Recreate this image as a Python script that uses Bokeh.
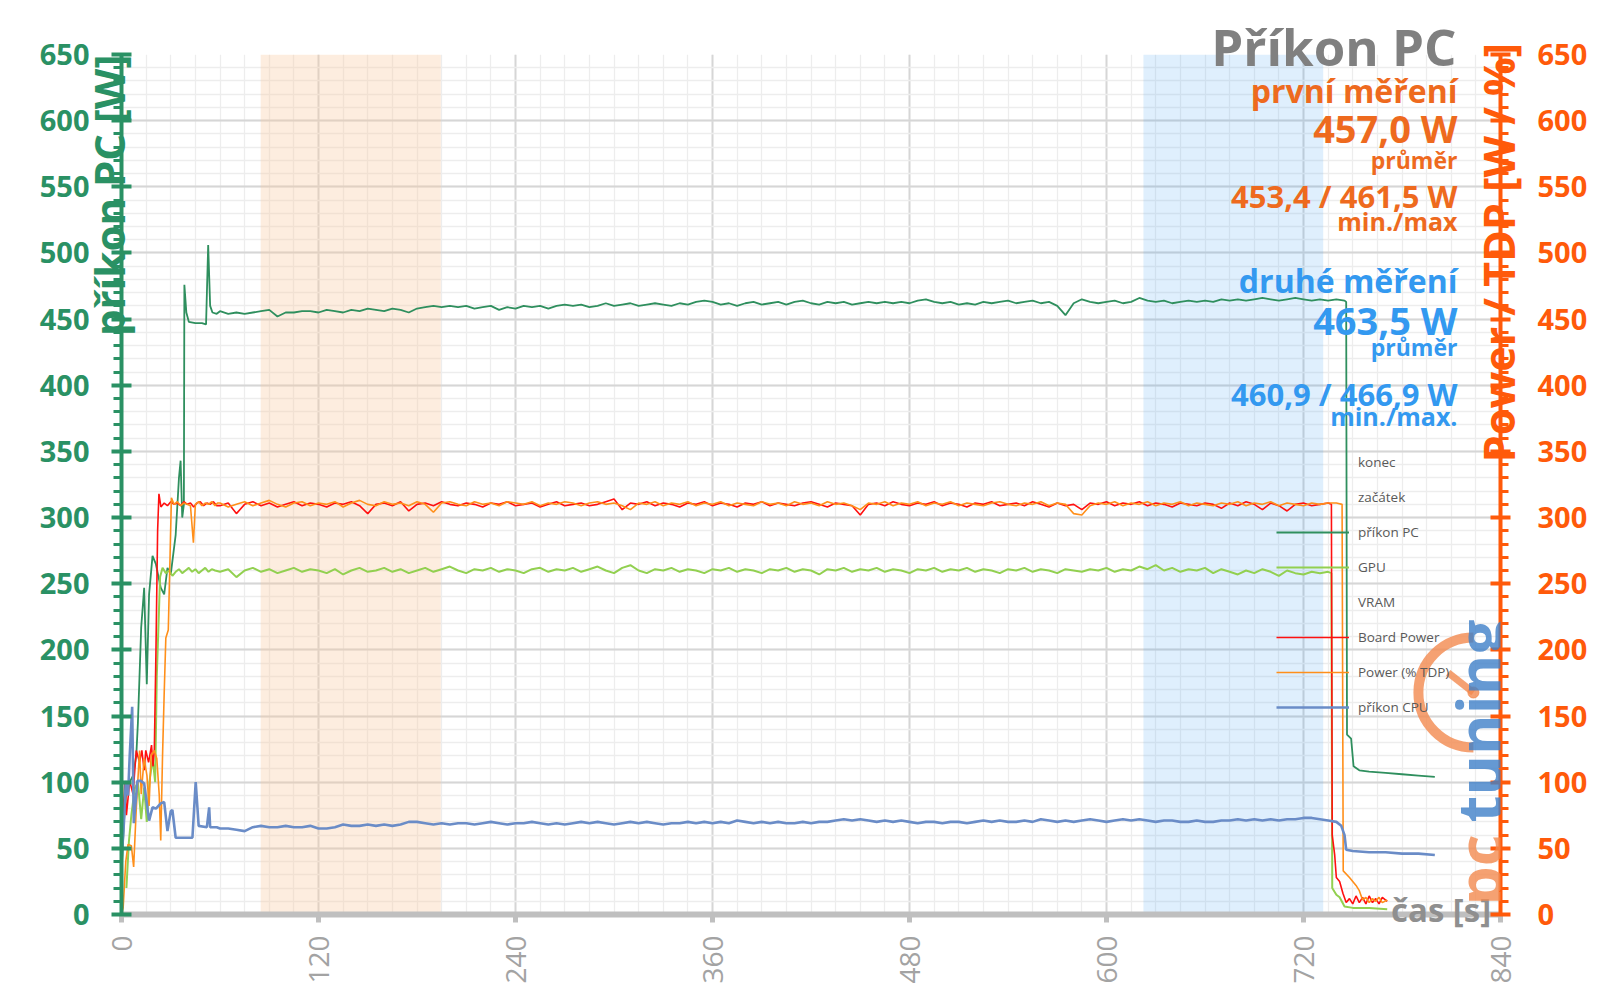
import math
from bokeh.plotting import figure
from bokeh.models import (Range1d, LinearAxis, SingleIntervalTicker, BoxAnnotation,
                          Label, Legend, LegendItem, ColumnDataSource)
from bokeh.embed import file_html
from bokeh.resources import INLINE

# ---------------- data ----------------
X_TICKS = [0, 120, 240, 360, 480, 600, 720, 840]
BAND_START = (84.8, 194.5)   # "začátek" band (s)
BAND_END = (622.5, 732.0)    # "konec" band (s)

T_STEADY = list(range(60, 731, 5))

PC_EARLY = [(0, 30), (1.5, 70), (3, 95), (5, 100), (7, 105), (9, 120), (10, 145), (12, 217), (13.8, 247),
            (15.4, 174), (16.8, 242), (18.9, 271), (20.9, 265), (23.9, 247), (26, 242), (28, 262), (30, 257),
            (33, 287), (35, 330), (36, 343), (37, 300), (38, 310), (38.3, 476), (39.5, 455), (41, 448),
            (45, 447), (49, 447), (51.5, 446), (52.8, 506), (54, 460), (55.4, 455), (58, 454)]
PC_STEADY = [456, 454, 455, 454, 455, 456, 457, 452, 455, 455,
             456, 456, 455, 457, 456, 455, 457, 456, 458, 457,
             456, 458, 457, 455, 458, 459, 460, 459, 460, 459,
             460, 458, 459, 460, 457, 459, 458, 460, 459, 460,
             458, 460, 461, 460, 461, 459, 460, 462, 460, 461,
             462, 460, 461, 462, 461, 460, 462, 461, 463, 464,
             463, 461, 462, 460, 462, 463, 461, 462, 463, 461,
             463, 464, 462, 461, 463, 462, 463, 461, 462, 463,
             462, 463, 462, 463, 462, 464, 465, 463, 462, 463,
             461, 462, 461, 463, 462, 463, 464, 462, 463, 464,
             462, 463, 460, 453, 462, 465, 463, 462, 463, 464,
             462, 463, 466, 464, 463, 464, 462, 463, 464, 463,
             464, 463, 465, 464, 465, 464, 465, 466, 465, 464,
             465, 466, 465, 464, 465]
PC_END = [(735, 464), (740, 465), (745, 464), (746, 463), (746.5, 136), (749, 133), (750.5, 112), (754, 109),
          (760, 108), (770, 107), (780, 106), (790, 105), (800, 104)]

CPU_EARLY = [(0, 40), (1.5, 70), (2.6, 101), (4, 90), (5, 120), (6.5, 157), (7.5, 69), (9.7, 101), (11.8, 101),
             (13.8, 99), (16.8, 71), (18.9, 81), (21, 80), (23.9, 84), (26, 85), (28, 63), (30, 78), (31, 79),
             (33, 58), (38, 58), (43.2, 58), (45.2, 100), (47, 67), (52, 66), (53.4, 81), (54, 66), (58, 66)]
CPU_STEADY = [65, 65, 64, 63, 66, 67, 66, 66, 67, 66,
              66, 67, 65, 65, 66, 68, 67, 67, 68, 67,
              68, 67, 68, 70, 70, 69, 68, 69, 68, 69,
              69, 68, 69, 70, 69, 68, 69, 69, 70, 69,
              68, 69, 68, 69, 70, 69, 70, 69, 68, 69,
              70, 69, 70, 69, 68, 69, 69, 70, 69, 70,
              69, 70, 69, 71, 70, 69, 70, 69, 70, 69,
              69, 70, 69, 70, 70, 71, 72, 71, 72, 71,
              70, 71, 70, 71, 70, 69, 70, 70, 69, 70,
              70, 69, 70, 71, 70, 71, 70, 70, 71, 70,
              72, 71, 70, 71, 70, 71, 72, 71, 70, 71,
              72, 71, 72, 71, 70, 71, 71, 70, 70, 71,
              70, 70, 71, 71, 72, 71, 72, 71, 72, 71,
              72, 72, 73, 73, 72]
CPU_END = [(735, 71), (740, 70), (743, 67), (745, 60), (746, 49), (750, 48), (760, 47), (770, 47), (780, 46),
           (790, 46), (800, 45)]

RED_EARLY = [(0, 105), (1, 72), (2, 100), (3, 75), (5, 101), (7, 91), (9, 124), (11, 115), (12.4, 124),
             (13.8, 109), (14.8, 124), (16.5, 115), (18.3, 128), (19.2, 112), (20, 125), (21, 200), (22, 290),
             (22.8, 318), (24, 308), (26, 311), (28, 309), (30, 312), (32, 310), (34, 311), (36, 309), (38, 312),
             (40, 310), (42, 311), (44, 308), (46, 311), (48, 312), (50, 309), (52, 311), (54, 310), (56, 312),
             (58, 309)]
RED_STEADY = [309, 311, 303, 310, 312, 309, 311, 308, 310, 312,
              309, 311, 310, 308, 311, 310, 312, 309, 303, 310,
              311, 309, 312, 305, 310, 311, 309, 312, 310, 309,
              311, 310, 308, 311, 310, 312, 309, 310, 311, 308,
              310, 312, 309, 310, 311, 309, 310, 312, 314, 306,
              311, 310, 312, 309, 311, 310, 308, 311, 310, 312,
              309, 311, 310, 308, 311, 310, 312, 309, 311, 310,
              309, 311, 312, 310, 308, 311, 310, 309, 302, 310,
              311, 309, 312, 310, 309, 311, 310, 312, 309, 311,
              310, 308, 311, 310, 312, 309, 310, 311, 309, 312,
              310, 308, 311, 309, 310, 306, 311, 310, 312, 309,
              311, 310, 312, 309, 311, 310, 308, 311, 310, 309,
              311, 310, 307, 311, 309, 312, 310, 306, 311, 309,
              305, 310, 311, 309, 310]
RED_END = [(735, 311), (737, 310), (737.5, 60), (739, 45), (740, 28), (742, 25), (744, 16), (746, 9), (748, 12),
           (750, 8), (752, 14), (754, 9), (756, 13), (758, 8), (760, 14), (762, 9), (764, 12), (766, 8),
           (768, 13), (771, 10)]

TDP_EARLY = [(0, 0), (1, 5), (2.6, 40), (4, 53), (6, 52), (7.4, 36), (9, 80), (11, 124), (12, 91), (13.8, 118),
             (15.5, 105), (16.8, 82), (18, 120), (20, 124), (21.5, 118), (23, 90), (23.9, 56), (25, 120),
             (26, 167), (27, 209), (28.5, 215), (29.6, 272), (30.4, 315), (32, 310), (34, 312), (36, 309),
             (38, 311), (40, 310), (42, 309), (43.8, 281), (45, 310), (47, 312), (49, 309), (51, 311), (53, 310),
             (55, 312), (57, 309), (58.5, 311)]
TDP_STEADY = [311, 308, 310, 312, 309, 311, 313, 310, 308, 311,
              312, 309, 311, 310, 312, 308, 311, 313, 310, 309,
              312, 310, 311, 309, 312, 310, 304, 311, 312, 310,
              309, 312, 310, 311, 309, 312, 311, 310, 312, 309,
              311, 310, 312, 311, 309, 311, 312, 310, 311, 309,
              306, 311, 310, 312, 309, 311, 310, 312, 309, 311,
              310, 312, 309, 311, 310, 309, 312, 310, 311, 309,
              312, 310, 311, 309, 312, 310, 311, 309, 306, 311,
              310, 312, 309, 311, 310, 312, 309, 311, 310, 312,
              309, 311, 310, 309, 311, 312, 310, 309, 311, 310,
              312, 309, 311, 310, 303, 302, 309, 311, 310, 312,
              309, 311, 310, 312, 309, 311, 310, 312, 309, 311,
              310, 309, 311, 310, 312, 309, 311, 310, 312, 309,
              311, 310, 309, 311, 310]
TDP_END = [(735, 311), (740, 311), (743.5, 310), (744.2, 33), (748, 28), (752, 22), (754, 18), (756, 11),
           (758, 13), (760, 9), (762, 12), (764, 10), (766, 13), (768, 9), (771, 11)]

GPU_EARLY = [(3, 20), (4.5, 55), (6, 75), (8, 95), (10, 100), (12, 72), (13.8, 96), (15.4, 70), (17, 100),
             (19, 118), (20.5, 100), (21.5, 180), (23.5, 255), (25, 262), (27, 258), (29, 260), (31, 256),
             (33, 259), (35, 261), (37, 258), (39, 260), (41, 262), (43, 259), (45, 261), (47, 258), (49, 260),
             (51, 262), (53, 259), (55, 261), (57, 260)]
GPU_STEADY = [259, 261, 255, 260, 262, 259, 261, 258, 260, 262,
              259, 261, 260, 258, 261, 257, 260, 262, 259, 260,
              262, 259, 261, 258, 260, 262, 259, 261, 263, 260,
              258, 261, 260, 262, 259, 261, 260, 258, 261, 262,
              259, 261, 260, 262, 259, 261, 263, 260, 258, 262,
              264, 260, 258, 261, 260, 262, 259, 261, 260, 258,
              261, 260, 262, 259, 261, 260, 258, 261, 260, 262,
              259, 261, 260, 257, 261, 260, 262, 259, 261, 260,
              262, 259, 261, 260, 258, 261, 260, 262, 259, 261,
              260, 262, 259, 261, 260, 258, 261, 260, 262, 259,
              261, 260, 258, 261, 260, 259, 261, 260, 262, 259,
              261, 260, 263, 261, 264, 260, 262, 259, 261, 260,
              262, 258, 261, 259, 257, 260, 258, 261, 259, 256,
              260, 258, 257, 259, 258]
GPU_END = [(735, 259), (737, 258), (737.5, 20), (740, 15), (742, 13), (745, 6), (750, 5), (760, 5), (771, 4)]

for s in (PC_STEADY, CPU_STEADY, RED_STEADY, TDP_STEADY, GPU_STEADY):
    assert len(s) == len(T_STEADY), len(s)


def series(early, steady, end):
    t = [a for a, _ in early] + T_STEADY + [a for a, _ in end]
    v = [b for _, b in early] + steady + [b for _, b in end]
    return ColumnDataSource(dict(t=t, v=v))


def set_if(obj, **kw):
    props = obj.properties()
    for k, v in kw.items():
        if k in props:
            try:
                setattr(obj, k, v)
            except Exception:
                pass


NBSP = "\u00a0"

# ---------------- styles ----------------
FONT = "Open Sans"
GREEN_AX = "#2A9164"
ORANGE_AX = "#FF5A0A"
ORANGE_TX = "#EE6A1E"
BLUE_TX = "#3399F0"

C_PC = "#2F8F5E"
C_GPU = "#92D050"
C_VRAM = "#1FB2E8"
C_RED = "#FF1010"
C_TDP = "#FF8F1A"
C_CPU = "#6A8CC7"

p = figure(width=1600, height=1008, output_backend="svg", toolbar_location=None,
           x_range=Range1d(0, 840), y_range=Range1d(0, 650),
           min_border_left=121, min_border_right=100, min_border_top=54, min_border_bottom=94)
p.extra_y_ranges = {"r": Range1d(0, 650)}
p.outline_line_color = None
p.background_fill_color = "white"
p.border_fill_color = "white"

# title (top right, above panel so it is not clipped)
p.title.text = "Příkon PC"
p.title.align = "right"
p.title.vertical_align = "bottom"
p.title.offset = 44
p.title.standoff = -53
p.title.text_font = FONT
p.title.text_font_style = "bold"
p.title.text_font_size = "51px"
p.title.text_color = "#808080"

xt = SingleIntervalTicker(interval=120, num_minor_ticks=8)
yt = SingleIntervalTicker(interval=50, num_minor_ticks=5)
yt2 = SingleIntervalTicker(interval=50, num_minor_ticks=5)

# grids
p.xgrid.ticker = xt
p.ygrid.ticker = yt
for g in (p.xgrid, p.ygrid):
    g.grid_line_color = "#D6D6D6"
    g.grid_line_width = 2
    g.minor_grid_line_color = "#EDEDED"
    g.minor_grid_line_width = 1.3

# x axis
xa = p.xaxis[0]
xa.ticker = xt
xa.axis_line_color = "#BFBFBF"
xa.axis_line_width = 6
xa.major_tick_line_color = "#BFBFBF"
xa.major_tick_line_width = 5
xa.major_tick_out = 8
xa.major_tick_in = 0
xa.minor_tick_line_color = None
xa.major_label_orientation = math.pi / 2
xa.major_label_text_font = FONT
xa.major_label_text_font_size = "28px"
xa.major_label_text_color = "#A3A3A3"
xa.major_label_standoff = 13


def style_y(ax, col, stand):
    ax.axis_line_color = col
    ax.axis_line_width = 4
    ax.major_tick_line_color = col
    ax.major_tick_line_width = 4
    ax.major_tick_out = 10
    ax.major_tick_in = 10
    ax.minor_tick_line_color = col
    ax.minor_tick_line_width = 3
    ax.minor_tick_out = 8
    ax.minor_tick_in = 0
    ax.major_label_text_font = FONT
    ax.major_label_text_font_style = "bold"
    ax.major_label_text_font_size = "29px"
    ax.major_label_text_color = col
    ax.major_label_standoff = stand


ya = p.yaxis[0]
ya.ticker = yt
style_y(ya, GREEN_AX, 22)
ra = LinearAxis(y_range_name="r", ticker=yt2)
style_y(ra, ORANGE_AX, 27)
p.add_layout(ra, "right")

# axis titles (drawn by the axes; leading no-break spaces move the visible words to where the original has them)
LEFT_TITLE = "příkon PC [W]"
RIGHT_TITLE = "Power / TDP [W / %]"
X_TITLE = "čas [s]"

ya.axis_label = NBSP * 53 + LEFT_TITLE
ya.axis_label_standoff = -100
ya.axis_label_text_font = FONT
ya.axis_label_text_font_style = "bold"
ya.axis_label_text_font_size = "42px"
ya.axis_label_text_color = GREEN_AX

set_if(ra, axis_label_orientation=math.pi / 2)
ra.axis_label = NBSP * 2 + RIGHT_TITLE
ra.axis_label_standoff = -92
ra.axis_label_text_font = FONT
ra.axis_label_text_font_style = "bold"
ra.axis_label_text_font_size = "43px"
ra.axis_label_text_color = ORANGE_AX

xa.axis_label = NBSP * 147 + X_TITLE
xa.axis_label_standoff = -100
xa.axis_label_text_font = FONT
xa.axis_label_text_font_style = "bold"
xa.axis_label_text_font_size = "33px"
xa.axis_label_text_color = "#8F8F8F"

# bands
p.add_layout(BoxAnnotation(left=BAND_START[0], right=BAND_START[1], fill_color="#F9C89B", fill_alpha=0.32,
                           line_color=None, level="underlay"))
p.add_layout(BoxAnnotation(left=BAND_END[0], right=BAND_END[1], fill_color="#3B9BF5", fill_alpha=0.16,
                           line_color=None, level="underlay"))

# series
r_konec = p.line(x=[], y=[], line_color="#C6DFF7", line_width=2)
r_zac = p.line(x=[], y=[], line_color="#FBE0C8", line_width=2)
r_pc = p.line("t", "v", source=series(PC_EARLY, PC_STEADY, PC_END), line_color=C_PC, line_width=1.8)
r_gpu = p.line("t", "v", source=series(GPU_EARLY, GPU_STEADY, GPU_END), line_color=C_GPU, line_width=2,
               y_range_name="r")
r_vram = p.line(x=[], y=[], line_color=C_VRAM, line_width=2, y_range_name="r")
r_red = p.line("t", "v", source=series(RED_EARLY, RED_STEADY, RED_END), line_color=C_RED, line_width=1.6,
               y_range_name="r")
r_tdp = p.line("t", "v", source=series(TDP_EARLY, TDP_STEADY, TDP_END), line_color=C_TDP, line_width=1.6,
               y_range_name="r")
r_cpu = p.line("t", "v", source=series(CPU_EARLY, CPU_STEADY, CPU_END), line_color=C_CPU, line_width=2.6)

legend = Legend(items=[
    LegendItem(label="konec", renderers=[r_konec]),
    LegendItem(label="začátek", renderers=[r_zac]),
    LegendItem(label="příkon PC", renderers=[r_pc]),
    LegendItem(label="GPU", renderers=[r_gpu]),
    LegendItem(label="VRAM", renderers=[r_vram]),
    LegendItem(label="Board Power", renderers=[r_red]),
    LegendItem(label="Power (% TDP)", renderers=[r_tdp]),
    LegendItem(label="příkon CPU", renderers=[r_cpu]),
], location=(1155, 197), glyph_width=73, glyph_height=20, label_height=20, spacing=15, padding=0, margin=0,
    label_standoff=9, label_text_font=FONT, label_text_font_size="13.5px", label_text_color="#595959",
    border_line_color=None, background_fill_alpha=0)
p.add_layout(legend)

# logo (watermark)
LOGO_X, LOGO_Y = 823.5, 167.8
p.arc(x=[LOGO_X], y=[LOGO_Y], radius=55, radius_units="screen", start_angle=math.pi / 2,
      end_angle=3 * math.pi / 2, line_color="#F2894F", line_width=10, line_alpha=0.8)
p.ray(x=[LOGO_X], y=[LOGO_Y], length=32, length_units="screen", angle=math.radians(142), line_color="#F2894F",
      line_width=7, line_alpha=0.8)
p.scatter(x=[LOGO_X], y=[LOGO_Y], size=11, color="#F2894F", alpha=0.8)
for txt, yy, col in (("pc", 6.8, "#F2894F"), ("tuning", 69.5, "#3F7FC8")):
    p.add_layout(Label(x=827.2, y=yy, text=txt, angle=math.pi / 2, text_align="left",
                       text_baseline="alphabetic", text_font=FONT, text_font_style="bold",
                       text_font_size="62px", text_color=col, text_alpha=0.8))

# annotation block
ANNOT = [
    ("první měření", 622.9, "32px", ORANGE_TX),
    ("457,0 W", 594.3, "38px", ORANGE_TX),
    ("průměr", 570.0, "23px", ORANGE_TX),
    ("453,4 / 461,5 W", 543.3, "31px", ORANGE_TX),
    ("min./max", 524.5, "25px", ORANGE_TX),
    ("druhé měření", 479.3, "32px", BLUE_TX),
    ("463,5 W", 449.7, "38px", BLUE_TX),
    ("průměr", 428.9, "23px", BLUE_TX),
    ("460,9 / 466,9 W", 393.4, "31px", BLUE_TX),
    ("min./max.", 376.6, "25px", BLUE_TX),
]
for txt, yy, fs, col in ANNOT:
    p.add_layout(Label(x=813.8, y=yy, text=txt, text_align="right", text_baseline="alphabetic",
                       text_font=FONT, text_font_style="bold", text_font_size=fs, text_color=col))

open("out.html", "w").write(file_html(p, INLINE))
